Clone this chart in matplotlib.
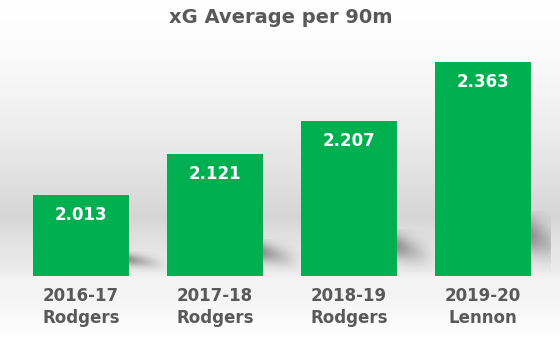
import matplotlib.pyplot as plt
import numpy as np

seasons = ["2016-17", "2017-18", "2018-19", "2019-20"]
managers = ["Rodgers", "Rodgers", "Rodgers", "Lennon"]
xg_per_90 = [2.013, 2.121, 2.207, 2.363]

title = "xG Average per 90m"
bar_color = "#00B050"
text_color = "#595959"
y_min, y_max = 1.8, 2.4
bar_width = 0.716

plt.rcParams["font.family"] = ["DejaVu Sans"]

fig = plt.figure(figsize=(5.6, 3.37), dpi=100)

# soft grey backdrop, darkest just above the floor
bg = fig.add_axes([0, 0, 1, 1], zorder=0)
rows = np.linspace(0, 1, 337)
shade = np.where(rows < 0.65,
                 255 - 42 * (rows / 0.65) ** 1.6,
                 213 + 42 * ((rows - 0.65) / 0.35) ** 0.7)
shade[rows > 0.82] = np.maximum(shade[rows > 0.82], 243)
img = np.repeat(shade[:, None], 2, axis=1) / 255.0
bg.imshow(np.dstack([img, img, img]), aspect="auto", extent=[0, 1, 1, 0])
bg.set_axis_off()

ax = fig.add_axes([0.025, 0.181, 0.957, 0.6766], zorder=1)
ax.patch.set_alpha(0)
x = np.arange(len(seasons))

# blurred floor shadows to the right of each bar
n = 60
gx, gy = np.meshgrid(np.linspace(0, 1, n), np.linspace(0, 1, n))
for xi, val in zip(x, xg_per_90):
    left = xi + bar_width / 2
    top = y_min + 0.3 * (val - y_min)
    alpha = np.exp(-((gy - 0.4 - 0.3 * gx) / 0.3) ** 2) * (1 - gx) ** 1.2 * 0.65
    rgba = np.zeros((n, n, 4))
    rgba[..., :3] = 0.4
    rgba[..., 3] = alpha
    ax.imshow(rgba, extent=[left, left + 0.3, y_min + 0.01, top], aspect="auto",
              origin="upper", zorder=1, interpolation="bilinear")

bars = ax.bar(x, xg_per_90, width=bar_width, bottom=0, color=bar_color, zorder=2)

for xi, val in zip(x, xg_per_90):
    ax.annotate(f"{val:.3f}", xy=(xi, val), xytext=(0, -8), textcoords="offset points",
                ha="center", va="top", color="white", fontsize=12, fontweight="bold", zorder=3)

ax.set_xlim(-0.5, len(seasons) - 0.5)
ax.set_ylim(y_min, y_max)
ax.set_xticks(x)
ax.set_xticklabels([f"{s}\n{m}" for s, m in zip(seasons, managers)],
                   fontsize=12, fontweight="bold", color=text_color, linespacing=1.3)
ax.tick_params(axis="x", length=0, pad=8)
ax.set_yticks([])
for side in ax.spines.values():
    side.set_visible(False)

fig.text(0.502, 0.948, title, ha="center", va="center", fontsize=14,
         fontweight="bold", color=text_color)

fig.savefig("out.png", dpi=100)
